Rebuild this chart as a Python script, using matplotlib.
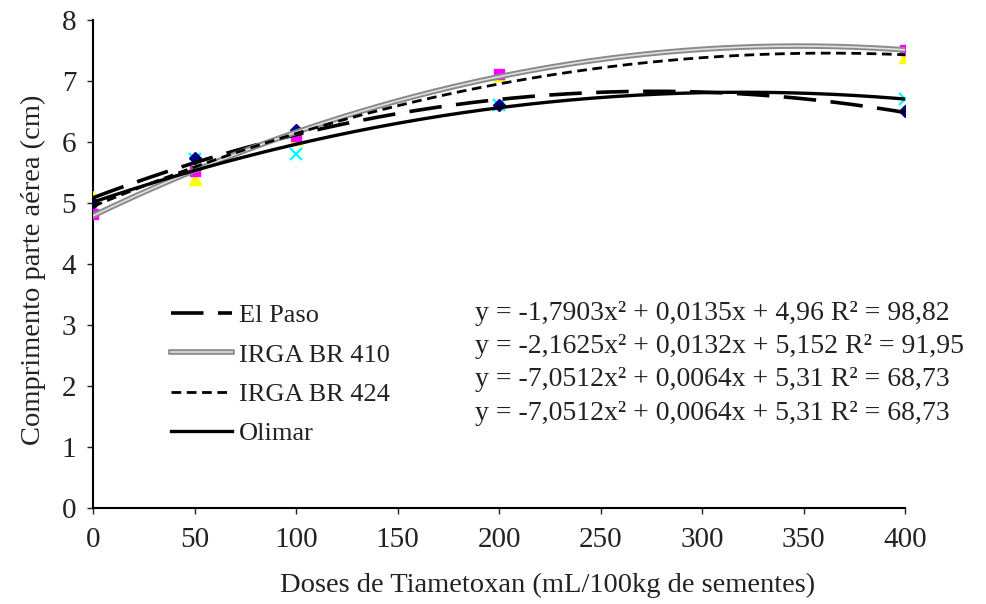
import numpy as np
import matplotlib
matplotlib.use("Agg")
import matplotlib.pyplot as plt
import matplotlib.patheffects as pe

doses = [0, 50, 100, 200, 400]
el_paso = [5.0, 5.74, 6.2, 6.6, 6.5]
irga_410 = [4.82, 5.52, 6.1, 7.12, 7.5]
irga_424 = [5.1, 5.4, 6.05, 7.1, 7.4]
olimar = [4.95, 5.72, 5.8, 6.6, 6.7]
series_names = ["El Paso", "IRGA BR 410", "IRGA BR 424", "Olimar"]
equations = [
    "y = -1,7903x² + 0,0135x + 4,96 R² = 98,82",
    "y = -2,1625x² + 0,0132x + 5,152 R² = 91,95",
    "y = -7,0512x² + 0,0064x + 5,31 R² = 68,73",
    "y = -7,0512x² + 0,0064x + 5,31 R² = 68,73",
]

plt.rcParams['font.family'] = ['Liberation Serif', 'DejaVu Serif']
txt = '#222222'

fig = plt.figure(figsize=(9.87, 6.04), dpi=100)
ax = fig.add_axes([0.0942, 0.159, 0.823, 0.808])

xs = np.linspace(0, 400, 300)
data = [el_paso, irga_410, irga_424, olimar]
markers = [dict(marker='D', color='#000080', ms=6),
           dict(marker='s', color='#FF00FF', ms=7),
           dict(marker='^', color='#FFFF00', ms=8),
           dict(marker='x', color='#00FFFF', ms=8, mew=1.6)]
order_pts = [2, 3, 0, 1]
for i in order_pts:
    m = markers[i]
    ax.plot(doses, data[i], linestyle='none', marker=m['marker'], color=m['color'],
            ms=m['ms'], mew=m.get('mew', 1), zorder=3)

handles = []
for i, d in enumerate(data):
    c = np.polyfit(doses, d, 2)
    ys = np.polyval(c, xs)
    if i == 0:
        h, = ax.plot(xs, ys, color='black', lw=2.6, dashes=(9, 4), zorder=4)
    elif i == 1:
        h, = ax.plot(xs, ys, color='#e0e0e0', lw=1.2, zorder=4,
                     path_effects=[pe.Stroke(linewidth=4, foreground='#8a8a8a'), pe.Normal()])
    elif i == 2:
        h, = ax.plot(xs, ys, color='black', lw=2.0, dashes=(3.5, 2), zorder=4)
    else:
        h, = ax.plot(xs, ys, color='black', lw=2.4, zorder=4)
    handles.append(h)

ax.set_xlim(0, 400)
ax.set_ylim(0, 8)
ax.set_xticks([0, 50, 100, 150, 200, 250, 300, 350, 400])
ax.set_yticks(range(0, 9))
for s in ['top', 'right']:
    ax.spines[s].set_visible(False)
for s in ['left', 'bottom']:
    ax.spines[s].set_linewidth(1.5)
ax.tick_params(direction='out', length=4, width=1, labelsize=21, colors=txt, pad=8)
ax.tick_params(axis='x', pad=10)

fig.text(548 / 987, 1 - 585 / 604, "Doses de Tiametoxan (mL/100kg de sementes)",
         fontsize=20.5, color=txt, ha='center', va='center')
fig.text(33 / 987, 1 - 270 / 604, "Comprimento parte aérea (cm)",
         fontsize=20.5, color=txt, ha='center', va='center', rotation=90)

leg = ax.legend(handles, series_names, loc='upper left', bbox_to_anchor=(0.083, 0.44),
                frameon=False, fontsize=19, handlelength=2.3, handletextpad=0.27,
                labelspacing=0.6, borderaxespad=0)
for t in leg.get_texts():
    t.set_color(txt)

for k, eq in enumerate(equations):
    fig.text(0.481, 1 - (313 + k * 33.5) / 604, eq, fontsize=20, color=txt, va='center', ha='left')

fig.savefig("out.png", dpi=100)
